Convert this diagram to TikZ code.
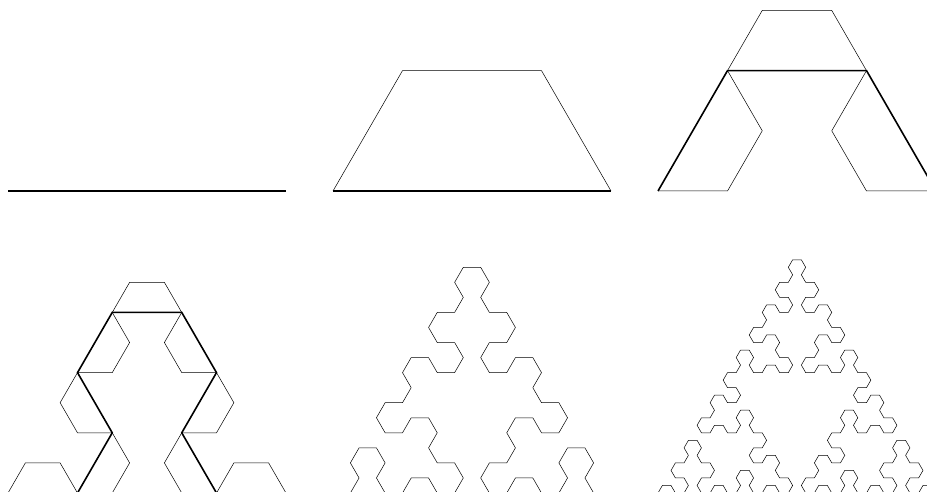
\documentclass[tikz,border=0pt]{standalone}
\usetikzlibrary{lindenmayersystems}
\pgfdeclarelindenmayersystem{arrowhead}{
  \symbol{X}{\pgflsystemdrawforward}
  \symbol{Y}{\pgflsystemdrawforward}
  \rule{X -> Y-X-Y}
  \rule{Y -> X+Y+X}
}
\begin{document}
\begin{tikzpicture}[x=1pt, y=1pt,
  thincurve/.style={draw=black, line width=0.5pt, line join=miter},
  thickcurve/.style={draw=black, line width=1.6pt, line join=miter}
]
\useasboundingbox (0,0) rectangle (927,492);
% top row: orders 0, 1, 2
\begin{scope}[shift={(8,301)}]
  \draw[thickcurve] (0,0) lindenmayer system[l-system={arrowhead, axiom=X, order=0, step=278pt, angle=60}];
\end{scope}
\begin{scope}[shift={(333,301)}]
  \draw[thincurve] (0,0) lindenmayer system[l-system={arrowhead, axiom=+X, order=1, step=139pt, angle=60}];
  \draw[thickcurve] (0,0) lindenmayer system[l-system={arrowhead, axiom=X, order=0, step=278pt, angle=60}];
\end{scope}
\begin{scope}[shift={(658,301)}]
  \draw[thincurve] (0,0) lindenmayer system[l-system={arrowhead, axiom=X, order=2, step=69.5pt, angle=60}];
  \draw[thickcurve] (0,0) lindenmayer system[l-system={arrowhead, axiom=+X, order=1, step=139pt, angle=60}];
\end{scope}
% bottom row: orders 3, 4, 5 (base line just below the edge)
\begin{scope}[shift={(8,-1)}]
  \draw[thincurve] (0,0) lindenmayer system[l-system={arrowhead, axiom=+X, order=3, step=34.75pt, angle=60}];
  \draw[thickcurve] (0,0) lindenmayer system[l-system={arrowhead, axiom=X, order=2, step=69.5pt, angle=60}];
\end{scope}
\begin{scope}[shift={(333,-1)}]
  \draw[thincurve] (0,0) lindenmayer system[l-system={arrowhead, axiom=X, order=4, step=17.375pt, angle=60}];
\end{scope}
\begin{scope}[shift={(658,-1)}]
  \draw[thincurve] (0,0) lindenmayer system[l-system={arrowhead, axiom=+X, order=5, step=8.6875pt, angle=60}];
\end{scope}
\end{tikzpicture}
\end{document}
